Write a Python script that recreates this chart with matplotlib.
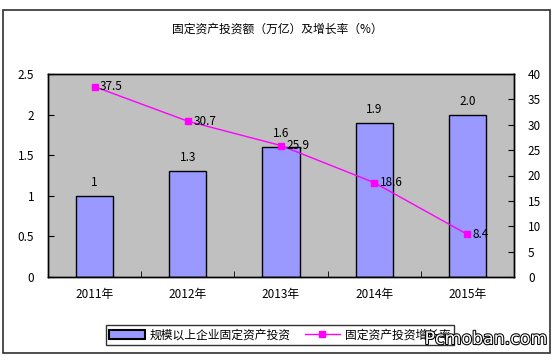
import matplotlib.pyplot as plt
import matplotlib.patheffects as pe
from matplotlib.lines import Line2D
from matplotlib.patches import Patch, Rectangle
import numpy as np

plt.rcParams['font.family'] = ['Noto Sans CJK SC', 'DejaVu Sans']

years = ['2011年', '2012年', '2013年', '2014年', '2015年']
invest = [1.0, 1.3, 1.6, 1.9, 2.0]
invest_labels = ['1', '1.3', '1.6', '1.9', '2.0']
growth = [37.5, 30.7, 25.9, 18.6, 8.4]

fig = plt.figure(figsize=(5.54, 3.61), dpi=100)
W, H = 554, 361

# outer chart frame
fig.patches.append(Rectangle((3 / W, 1 - 353 / H), 547 / W, 343 / H,
                             transform=fig.transFigure, fill=False,
                             edgecolor='#303030', linewidth=1.2))

ax = fig.add_axes([48 / W, 1 - 277 / H, 466 / W, 203 / H])
ax.set_facecolor('#C0C0C0')
x = np.arange(len(years))
bars = ax.bar(x, invest, width=0.4, color='#9999FF', edgecolor='black', linewidth=1)
for xi, v, lab in zip(x, invest, invest_labels):
    ax.annotate(lab, (xi, v), xytext=(0, 5), textcoords='offset points',
                ha='center', va='bottom', fontsize=8.5)
ax.set_xlim(-0.5, 4.5)
ax.set_ylim(0, 2.5)
ax.set_yticks([0, 0.5, 1, 1.5, 2, 2.5])
ax.set_yticklabels(['0', '0.5', '1', '1.5', '2', '2.5'], fontsize=8.5)
ax.set_xticks(x)
ax.set_xticklabels(years, fontsize=8.5)
ax.set_xticks(np.arange(-0.5, 5, 1), minor=True)
ax.tick_params(axis='x', which='major', length=0, pad=8)
ax.tick_params(axis='x', which='minor', direction='in', length=4)
ax.tick_params(axis='y', direction='in', length=4, pad=10)

ax2 = ax.twinx()
ax2.plot(x, growth, color='#FF00FF', marker='s', markersize=5, linewidth=1)
for xi, v in zip(x, growth):
    ax2.annotate(f'{v:.1f}', (xi, v), xytext=(4, 0), textcoords='offset points',
                 ha='left', va='center', fontsize=8.5)
ax2.set_ylim(0, 40)
ax2.set_yticks(range(0, 41, 5))
ax2.tick_params(axis='y', direction='in', length=4, pad=10, labelsize=8.5)

for a in (ax, ax2):
    for s in a.spines.values():
        s.set_color('black')
        s.set_linewidth(1)

fig.text(0.5, 1 - 29 / H, '固定资产投资额（万亿）及增长率（%）', ha='center', va='center',
         fontsize=8.5)

handles = [Patch(facecolor='#9999FF', edgecolor='black', linewidth=1.5),
           Line2D([], [], color='#FF00FF', marker='s', markersize=5, linewidth=1)]
leg = fig.legend(handles, ['规模以上企业固定资产投资', '固定资产投资增长率'],
                 loc='center', bbox_to_anchor=(280 / W, 1 - 335 / H), ncol=2,
                 fontsize=8.5, frameon=True, fancybox=False, edgecolor='black',
                 handlelength=3.0, handletextpad=0.4, columnspacing=1.2,
                 borderpad=0.3)
leg.get_frame().set_linewidth(1)
leg.set_zorder(5)

wm = fig.text(548 / W, 1 - 339 / H, 'Pcmoban.com', ha='right', va='center',
              fontsize=12.5, color='white', family='DejaVu Sans',
              path_effects=[pe.withStroke(linewidth=1.5, foreground='black')])
wm.set_zorder(10)

fig.savefig('out.png', dpi=100)
